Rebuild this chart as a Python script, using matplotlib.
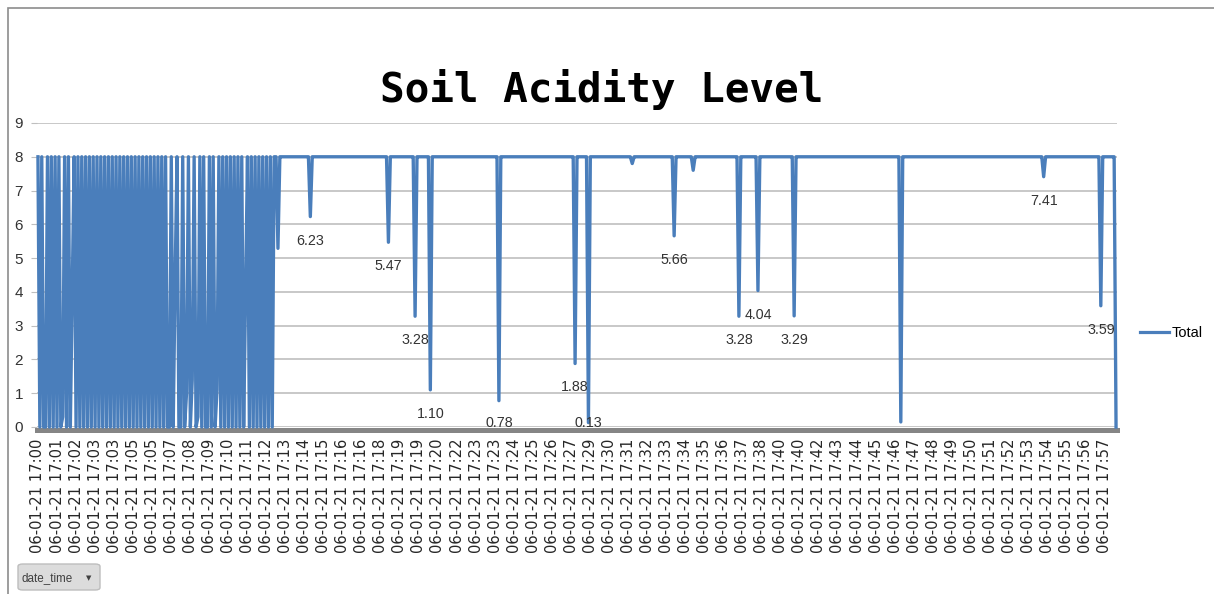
import numpy as np
import matplotlib
matplotlib.use("Agg")
import matplotlib.pyplot as plt
from matplotlib.patches import Rectangle, FancyBboxPatch
from matplotlib.lines import Line2D

# keep every sample of the fast 0/8 flipping (no vertex merging)
plt.rcParams["path.simplify"] = False

# --- data ---
n_points = 567          # samples on the category axis
ticks_every = 10        # Excel shows a label every 10th category
base_level = 8.0

tick_labels = [
    "17:00", "17:01", "17:02", "17:03", "17:03", "17:05", "17:05", "17:07", "17:08", "17:09",
    "17:10", "17:11", "17:12", "17:13", "17:14", "17:15", "17:16", "17:16", "17:18", "17:19",
    "17:19", "17:20", "17:22", "17:23", "17:23", "17:24", "17:25", "17:26", "17:27", "17:29",
    "17:30", "17:31", "17:32", "17:33", "17:34", "17:35", "17:36", "17:37", "17:38", "17:40",
    "17:40", "17:42", "17:43", "17:44", "17:45", "17:46", "17:47", "17:48", "17:49", "17:50",
    "17:51", "17:52", "17:53", "17:54", "17:55", "17:56", "17:57",
]
date_prefix = "06-01-21 "

# first ~12 minutes: readings flip between 8 and 0
dense_vals = [
    8, 0, 8, 0, 0, 8, 0, 8, 0, 8,
    0, 8, 0, 0.3, 8, 0, 8, 0, 4, 8,
    0, 8, 0, 8, 0, 8, 0, 8, 0, 8,
    0, 8, 0, 8, 0, 8, 0, 8, 0, 8,
    0, 8, 0, 8, 0, 8, 0, 8, 0, 8,
    0, 8, 0, 8, 0, 8, 0, 8, 0, 8,
    0, 8, 0, 8, 0, 8, 0, 8, 0, 0,
    8, 0, 4.3, 8, 0, 0, 8, 0, 1, 8,
    0, 1.4, 8, 0, 0.3, 8, 0, 8, 0, 0,
    8, 0, 8, 0, 1.1, 8, 0, 8, 0, 8,
    0, 8, 0, 8, 0, 8, 0, 8, 0, 4,
    8, 0, 8, 0, 8, 0, 8, 0, 8, 0,
    8, 0, 8, 0, 8,
]

# later single-sample drops from the 8.0 level
dip_idx = [126, 143, 184, 198, 206, 242, 282, 289, 312, 334, 344, 368, 378, 397, 453, 528, 558, 566]
dip_vals = [5.29, 6.23, 5.47, 3.28, 1.10, 0.78, 1.88, 0.13, 7.8, 5.66, 7.6, 3.28, 4.04, 3.29, 0.15, 7.41, 3.59, 0.0]
dip_labelled = [False, True, True, True, True, True, True, True, False, True, False,
                True, True, True, False, True, True, False]

values = np.full(n_points, base_level)
values[:len(dense_vals)] = dense_vals
values[dip_idx] = dip_vals

# --- figure ---
W, H = 1214, 594
fig = plt.figure(figsize=(W / 100, H / 100), dpi=100)
fig.patch.set_facecolor("white")

ax = fig.add_axes([37 / W, (H - 427) / H, (1117 - 37) / W, 304 / H])
blue = "#4a7ebb"
x = np.arange(n_points)
line, = ax.plot(x, values, color=blue, lw=2.4, clip_on=False, zorder=3)
line.set_snap(False)

ax.set_xlim(-0.5, n_points - 0.5)
ax.set_ylim(0, 9)

ax.tick_params(axis="y", length=4, color="#bfbfbf", pad=6, labelsize=11, labelcolor="#333333")
ax.tick_params(axis="x", length=0, pad=6, labelrotation=90, labelsize=10.6, labelcolor="#262626")

ax.set_yticks(range(10))
ax.set_yticklabels([str(v) for v in range(10)])
for t in ax.get_yticklabels():
    t.set_family(["Liberation Sans", "DejaVu Sans"])

tick_pos = np.arange(len(tick_labels)) * ticks_every
ax.set_xticks(tick_pos)
ax.set_xticklabels([date_prefix + t for t in tick_labels])
for t in ax.get_xticklabels():
    t.set_family("DejaVu Sans")
    t.set_rotation(90)

ax.yaxis.grid(True, color="#c4c4c4", lw=1.3)
ax.set_axisbelow(True)
for s in ["left", "right", "top"]:
    ax.spines[s].set_visible(False)
ax.spines["bottom"].set_color("#858585")
ax.spines["bottom"].set_linewidth(3.6)
ax.spines["bottom"].set_position(("outward", 2.5))

# data labels under the labelled drops
for i, v, lab in zip(dip_idx, dip_vals, dip_labelled):
    if lab:
        ax.text(i, max(v - 0.71, 0.13), f"{v:.2f}", ha="center", va="center", fontsize=10.3,
                family=["Liberation Sans", "DejaVu Sans"], color="#333333", zorder=4)

# title
fig.text(602 / W, 1 - 101.7 / H, "Soil Acidity Level", ha="center", va="baseline",
         fontsize=29.5, fontweight="bold", family="DejaVu Sans Mono", color="black")

# legend
ax.legend([Line2D([0], [0], color=blue, lw=2.3)], ["Total"], loc="center left",
          bbox_to_anchor=(1140 / W, 1 - 333 / H), bbox_transform=fig.transFigure,
          frameon=False, handlelength=2.0, handletextpad=0.2, borderpad=0, borderaxespad=0,
          prop={"family": ["Liberation Sans", "DejaVu Sans"], "size": 10.5})

# chart border and the pivot field button
fig.patches.append(Rectangle((8 / W, -0.05), 1.2, (H - 8) / H + 0.05, transform=fig.transFigure,
                             fill=False, edgecolor="#8c8c8c", lw=1.2))
fig.patches.append(FancyBboxPatch((18 / W, 1 - 590 / H), 82 / W, 26 / H,
                                  boxstyle="round,pad=0,rounding_size=0.004",
                                  transform=fig.transFigure, facecolor="#dcdcdc",
                                  edgecolor="#bdbdbd", lw=1))
fig.text(22 / W, 1 - 578 / H, "date_time", ha="left", va="center", fontsize=8.4,
         family=["Liberation Sans", "DejaVu Sans"], color="#404040")
fig.text(89 / W, 1 - 578 / H, "\u25bc", ha="center", va="center", fontsize=5,
         family="DejaVu Sans", color="#404040")

fig.savefig("out.png", dpi=100)
